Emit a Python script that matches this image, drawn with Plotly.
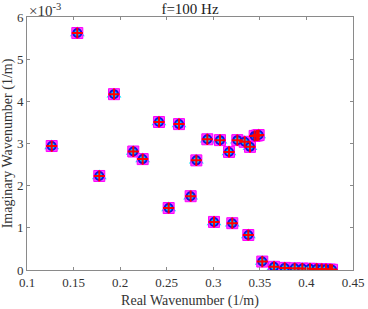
import plotly.graph_objects as go

real_k = [0.1265, 0.154, 0.1776, 0.1934, 0.2141, 0.2242, 0.2417, 0.2521, 0.2632,
          0.2757, 0.2818, 0.2936, 0.3008, 0.3072, 0.3169, 0.3204, 0.3258, 0.3337,
          0.3376, 0.3394, 0.3444, 0.3470, 0.3487, 0.3526, 0.3652, 0.3767, 0.3874,
          0.3956, 0.4038, 0.411, 0.4164, 0.421, 0.4253, 0.4275]
imag_k = [2.94, 5.62, 2.23, 4.17, 2.81, 2.63, 3.51, 1.47, 3.46,
          1.75, 2.60, 3.10, 1.14, 3.08, 2.80, 1.11, 3.08, 3.04,
          0.83, 2.92, 3.18, 3.19, 3.20, 0.20, 0.076, 0.05, 0.04,
          0.035, 0.03, 0.025, 0.02, 0.015, 0.01, 0.005]
imag_k = [v * 1e-3 for v in imag_k]

x_ticks = [0.1, 0.15, 0.2, 0.25, 0.3, 0.35, 0.4, 0.45]
x_ticktext = ["0.1", "0.15", "0.2", "0.25", "0.3", "0.35", "0.4", "0.45"]
y_ticks = [0, 0.001, 0.002, 0.003, 0.004, 0.005, 0.006]
y_ticktext = ["0", "1", "2", "3", "4", "5", "6"]

font = "Liberation Serif"
fig = go.Figure()
fig.add_trace(go.Scatter(x=real_k, y=imag_k, mode="markers",
                         marker=dict(symbol="triangle-up", size=13, color="#00e5ff"),
                         hoverinfo="skip"))
fig.add_trace(go.Scatter(x=real_k, y=imag_k, mode="markers",
                         marker=dict(symbol="square", size=11, color="#ff44ff",
                                     line=dict(color="#ff00ff", width=1))))
fig.add_trace(go.Scatter(x=real_k, y=imag_k, mode="markers",
                         marker=dict(symbol="circle", size=8, color="#00c8ff",
                                     line=dict(color="#1010e0", width=2))))
fig.add_trace(go.Scatter(x=real_k, y=imag_k, mode="markers",
                         marker=dict(symbol="cross-thin", size=8,
                                     line=dict(color="#ff0000", width=2))))

axis_common = dict(showline=True, linecolor="#8a8a8a", linewidth=1, mirror="ticks",
                   ticks="inside", ticklen=3, tickcolor="#8a8a8a", showgrid=False,
                   zeroline=False, tickfont=dict(family=font, size=13, color="#333"),
                   ticklabeloverflow="allow", automargin=False)
fig.update_xaxes(range=[0.1, 0.45], tickvals=x_ticks, ticktext=x_ticktext,
                 title=dict(text="Real Wavenumber (1/m)", font=dict(family=font, size=14, color="#333")),
                 **axis_common)
fig.update_yaxes(range=[0, 0.006], tickvals=y_ticks, ticktext=y_ticktext,
                 title=dict(text="Imaginary Wavenumber (1/m)", font=dict(family=font, size=14, color="#333")),
                 **axis_common)

fig.add_annotation(text="×10<sup>-3</sup>", xref="paper", yref="paper", x=0, y=1,
                   xanchor="left", yanchor="bottom", showarrow=False,
                   font=dict(family=font, size=15, color="#333"), yshift=-4)
fig.update_layout(template="none", width=368, height=309,
                  margin=dict(l=27, r=15, t=17, b=39, autoexpand=False),
                  paper_bgcolor="white", plot_bgcolor="white", showlegend=False,
                  title=dict(text="f=100 Hz", x=0.5, xref="paper", xanchor="center",
                             y=0.972, yanchor="middle",
                             font=dict(family=font, size=15, color="#222")))
fig.write_html("out.html", config={"displayModeBar": False},
               post_script="document.body.style.margin='0';document.body.style.overflow='hidden';")
